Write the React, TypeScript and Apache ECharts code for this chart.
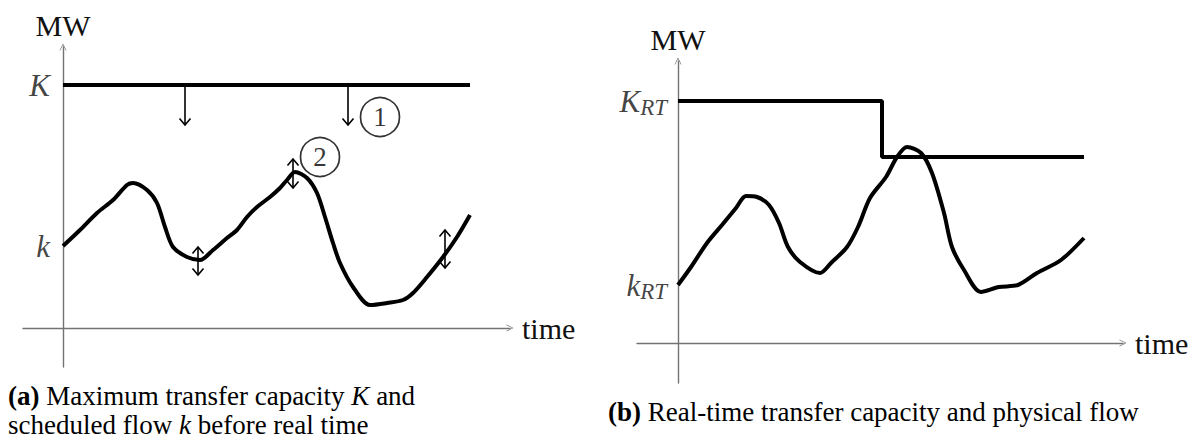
import React, { useEffect, useRef } from "react";
import * as echarts from "echarts";

const FONT = "Liberation Serif";
const TEXT = "#111";
const AXIS = "#737373";
const ARROW = "path://M0,10 L5,0 L10,10 L9,10 L5,2 L1,10 Z";

// ---------- Panel (a): capacity K and scheduled flow k ----------
const aFlowX = [0, 4.25, 8.5, 12.5, 16, 17.5, 21, 23.5, 25.5, 27.5, 31, 34.25, 37.5, 41, 43.5, 46, 48.5, 51.75, 54.25, 56, 58, 61, 63.5, 65.5, 67.5, 69.25, 72.5, 76.75, 81, 85, 87.5, 91, 95, 98.5, 101.75];
const aFlowY = [20.5, 24.5, 28.75, 32, 35.75, 36.25, 34.5, 31.25, 25.25, 20.25, 17.75, 17, 19.5, 22.5, 24.5, 27.75, 30.25, 32.75, 35, 37, 39, 37.5, 33.75, 27.75, 21.25, 16.25, 10.25, 5.75, 6.25, 7, 8.75, 12.75, 17.75, 22.75, 28.25];
const aCapacityX = [0, 101.75];
const aCapacityY = [60.75, 60.75];
// [x, from, to, heads]
const aArrows = [
  [30.5, 60.75, 50.75, 1],
  [71.25, 60.75, 50.75, 1],
  [33.75, 20.25, 13.25, 2],
  [57.5, 42.25, 35, 2],
  [95.5, 24.5, 15, 2],
];
const aMarkerLabels = ["1", "2"];
const aMarkerX = [79.25, 64.25];
const aMarkerY = [52.75, 42.75];

// ---------- Panel (b): real-time capacity K_RT and physical flow k_RT ----------
const bFlowX = [0, 3.25, 7.25, 11, 14.5, 17, 19.75, 22.75, 25.25, 27.5, 30.5, 35.5, 38.25, 42.25, 45, 48, 52, 54.75, 57.25, 60.75, 63.5, 66.5, 68.5, 71.5, 75.75, 80.25, 85, 89.75, 95.75, 101.5];
const bFlowY = [14.5, 19, 25, 29.5, 33.75, 36.75, 36.5, 34.5, 30, 24, 20.25, 17.5, 20, 24, 29, 36.25, 41.5, 46.5, 49, 47.5, 42.5, 32.5, 24, 18.25, 12.75, 14, 14.5, 17.5, 20.75, 26.25];
const bCapacityX = [0, 51, 51, 101.5];
const bCapacityY = [60.5, 60.5, 46.5, 46.5];

const captionA1 = "{b|(a)}{r| Maximum transfer capacity }{m|K}{r| and}";
const captionA2 = "{r|scheduled flow }{m|k}{r| before real time}";
const captionB = "{b|(b)}{r| Real-time transfer capacity and physical flow}";

const zip = (xs: number[], ys: number[]) => xs.map((x, i) => [x, ys[i]]);

function axisPair(grid: number, xMin: number, xMax: number, yMin: number, yMax: number) {
  const line = {
    onZero: true,
    lineStyle: { color: AXIS, width: 1.4 },
    symbol: ["none", ARROW],
    symbolSize: [9, 7],
  };
  const nameStyle = { fontFamily: FONT, fontSize: 30, color: TEXT };
  return {
    x: {
      type: "value",
      gridIndex: grid,
      min: xMin,
      max: xMax,
      axisLine: line,
      axisTick: { show: false },
      axisLabel: { show: false },
      splitLine: { show: false },
      name: "time",
      nameLocation: "end",
      nameGap: 12,
      nameTextStyle: { ...nameStyle, verticalAlign: "middle" },
    },
    y: {
      type: "value",
      gridIndex: grid,
      min: yMin,
      max: yMax,
      axisLine: line,
      axisTick: { show: false },
      axisLabel: { show: false },
      splitLine: { show: false },
      name: "MW",
      nameLocation: "end",
      nameGap: 7,
      nameTextStyle: { ...nameStyle, align: "center", verticalAlign: "bottom" },
    },
  };
}

function renderArrow(params: any, api: any) {
  const x = api.value(0);
  const p1 = api.coord([x, api.value(1)]);
  const p2 = api.coord([x, api.value(2)]);
  const heads = api.value(3);
  const s = p2[1] > p1[1] ? 1 : -1;
  const hw = 5.5;
  const hh = 6.5;
  const style = { stroke: "#000", lineWidth: 1.6, fill: "none" };
  const children: any[] = [
    { type: "line", shape: { x1: p1[0], y1: p1[1], x2: p2[0], y2: p2[1] }, style },
    {
      type: "polyline",
      shape: { points: [[p2[0] - hw, p2[1] - s * hh], [p2[0], p2[1]], [p2[0] + hw, p2[1] - s * hh]] },
      style,
    },
  ];
  if (heads === 2) {
    children.push({
      type: "polyline",
      shape: { points: [[p1[0] - hw, p1[1] + s * hh], [p1[0], p1[1]], [p1[0] + hw, p1[1] + s * hh]] },
      style,
    });
  }
  return { type: "group", children };
}

const rich = {
  i: { fontFamily: FONT, fontStyle: "italic", fontSize: 31, color: TEXT, lineHeight: 36, verticalAlign: "middle" },
  s: { fontFamily: FONT, fontStyle: "italic", fontSize: 23, color: TEXT, lineHeight: 16, verticalAlign: "bottom" },
  b: { fontFamily: FONT, fontWeight: "bold", fontSize: 27, color: TEXT, lineHeight: 28 },
  r: { fontFamily: FONT, fontSize: 27, color: TEXT, lineHeight: 28 },
  m: { fontFamily: FONT, fontStyle: "italic", fontSize: 27, color: TEXT, lineHeight: 28 },
};

export default function App() {
  const ref = useRef<HTMLDivElement>(null);
  useEffect(() => {
    if (!ref.current) return;
    const chart = echarts.init(ref.current, undefined, { renderer: "svg" });
    const a = axisPair(0, -10, 111.75, -9.75, 70.25);
    const b = axisPair(1, -10.25, 111.25, -10, 70.5);
    const thick = { color: "#000", width: 4 };
    const labelSeries = (grid: number, items: any[], distance: number) => ({
      type: "scatter",
      xAxisIndex: grid,
      yAxisIndex: grid,
      symbolSize: 0,
      itemStyle: { color: "transparent" },
      silent: true,
      z: 5,
      label: { show: true, position: "left", distance, formatter: (p: any) => p.data.text, rich },
      data: items,
    });
    const caption = (text: string, x: number, y: number) => ({
      type: "text",
      x,
      y,
      style: { text, rich, align: "left", verticalAlign: "middle" },
    });
    chart.setOption({
      animation: false,
      backgroundColor: "#fff",
      grid: [
        { left: 23, top: 47, width: 487, height: 320 },
        { left: 637, top: 61, width: 486, height: 322 },
      ],
      xAxis: [a.x, b.x],
      yAxis: [a.y, b.y],
      series: [
        { type: "line", xAxisIndex: 0, yAxisIndex: 0, data: zip(aCapacityX, aCapacityY), symbol: "none", lineStyle: thick },
        { type: "line", xAxisIndex: 0, yAxisIndex: 0, data: zip(aFlowX, aFlowY), symbol: "none", smooth: 0.3, lineStyle: thick },
        { type: "custom", xAxisIndex: 0, yAxisIndex: 0, renderItem: renderArrow, data: aArrows, z: 4 },
        {
          type: "scatter",
          xAxisIndex: 0,
          yAxisIndex: 0,
          symbol: "circle",
          symbolSize: 39,
          itemStyle: { color: "#fff", borderColor: "#000", borderWidth: 1.7 },
          label: { show: true, position: "inside", formatter: (p: any) => p.data.text, fontFamily: FONT, fontSize: 27, color: "#000" },
          data: aMarkerLabels.map((t, i) => ({ value: [aMarkerX[i], aMarkerY[i]], text: t })),
          z: 6,
        },
        labelSeries(0, [
          { value: [aCapacityX[0], aCapacityY[0]], text: "{i|K}" },
          { value: [aFlowX[0], aFlowY[0]], text: "{i|k}" },
        ], 13),
        { type: "line", xAxisIndex: 1, yAxisIndex: 1, data: zip(bCapacityX, bCapacityY), symbol: "none", lineStyle: thick },
        { type: "line", xAxisIndex: 1, yAxisIndex: 1, data: zip(bFlowX, bFlowY), symbol: "none", smooth: 0.3, lineStyle: thick },
        labelSeries(1, [
          { value: [bCapacityX[0], bCapacityY[0]], text: "{i|K}{s|RT}" },
          { value: [bFlowX[0], bFlowY[0]], text: "{i|k}{s|RT}" },
        ], 11),
      ],
      graphic: [
        caption(captionA1, 8, 396),
        caption(captionA2, 8, 425),
        caption(captionB, 608, 412),
      ],
    });
    return () => chart.dispose();
  }, []);
  return (
    <div
      ref={ref}
      style={{ position: "fixed", left: 0, top: 0, width: 1199, height: 440, background: "#fff" }}
    />
  );
}
